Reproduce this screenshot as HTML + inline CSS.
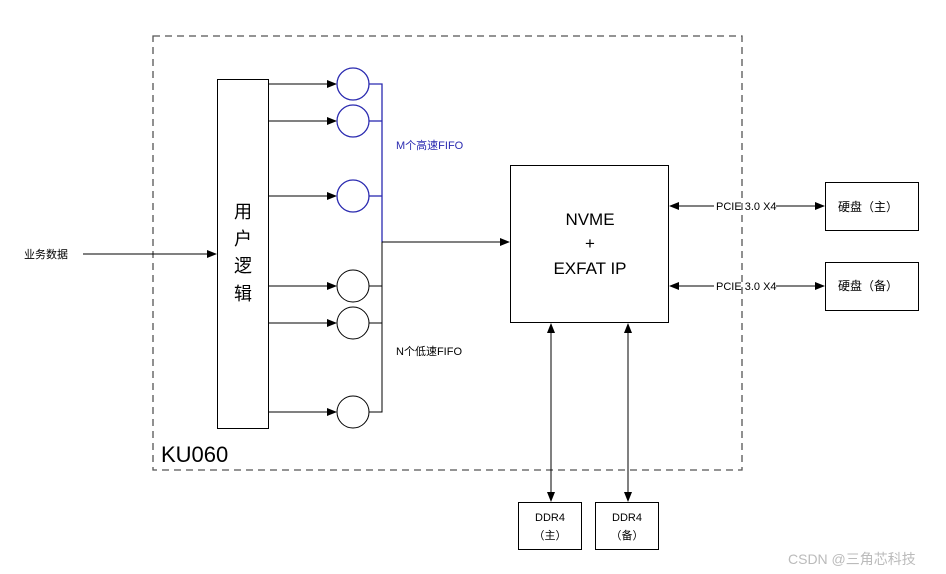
<!DOCTYPE html><html><head><meta charset="utf-8"><style>body{margin:0;background:#fff}svg{display:block}text{font-family:"Liberation Sans","Noto Sans CJK SC",sans-serif}</style></head><body>
<svg width="946" height="574" viewBox="0 0 946 574" xmlns="http://www.w3.org/2000/svg">
<defs><marker id="a" markerWidth="10" markerHeight="8" refX="9" refY="4" orient="auto-start-reverse" markerUnits="userSpaceOnUse"><path d="M0,0L10,4L0,8z" fill="#000"/></marker></defs>
<rect x="153" y="36" width="589" height="434" fill="none" stroke="#555" stroke-width="1.3" stroke-dasharray="7,5"/>
<text x="161" y="462" font-size="22">KU060</text>
<rect x="217.5" y="79.5" width="51" height="349" fill="none" stroke="#000"/>
<text font-size="18" text-anchor="middle"><tspan x="243" y="218">用</tspan><tspan x="243" y="245">户</tspan><tspan x="243" y="272">逻</tspan><tspan x="243" y="300">辑</tspan></text>
<line x1="83" y1="254" x2="216" y2="254" stroke="#000" marker-end="url(#a)"/>
<text x="24" y="258" font-size="11">业务数据</text>
<g stroke="#000" fill="none">
<line x1="269" y1="84" x2="336" y2="84" marker-end="url(#a)"/>
<line x1="269" y1="121" x2="336" y2="121" marker-end="url(#a)"/>
<line x1="269" y1="196" x2="336" y2="196" marker-end="url(#a)"/>
<line x1="269" y1="286" x2="336" y2="286" marker-end="url(#a)"/>
<line x1="269" y1="323" x2="336" y2="323" marker-end="url(#a)"/>
<line x1="269" y1="412" x2="336" y2="412" marker-end="url(#a)"/>
</g>
<g stroke="#2a2ab0" fill="none" stroke-width="1.3">
<circle cx="353" cy="84" r="16"/><circle cx="353" cy="121" r="16"/><circle cx="353" cy="196" r="16"/>
<polyline points="369,84 382,84 382,242"/><line x1="369" y1="121" x2="382" y2="121"/><line x1="369" y1="196" x2="382" y2="196"/>
</g>
<g stroke="#000" fill="none">
<circle cx="353" cy="286" r="16"/><circle cx="353" cy="323" r="16"/><circle cx="353" cy="412" r="16"/>
<polyline points="369,412 382,412 382,242"/><line x1="369" y1="286" x2="382" y2="286"/><line x1="369" y1="323" x2="382" y2="323"/>
<line x1="382" y1="242" x2="509" y2="242" marker-end="url(#a)"/>
</g>
<text x="396" y="149" font-size="11" fill="#2a2ab0">M个高速FIFO</text>
<text x="396" y="355" font-size="11">N个低速FIFO</text>
<rect x="510.5" y="165.5" width="158" height="157" fill="none" stroke="#000"/>
<text font-size="17" text-anchor="middle"><tspan x="590" y="225">NVME</tspan><tspan x="590" y="249">+</tspan><tspan x="590" y="274">EXFAT IP</tspan></text>
<g stroke="#000"><line x1="670" y1="206" x2="714" y2="206" marker-start="url(#a)"/><line x1="776" y1="206" x2="824" y2="206" marker-end="url(#a)"/>
<line x1="670" y1="286" x2="714" y2="286" marker-start="url(#a)"/><line x1="776" y1="286" x2="824" y2="286" marker-end="url(#a)"/>
<line x1="551" y1="324" x2="551" y2="501" marker-start="url(#a)" marker-end="url(#a)"/>
<line x1="628" y1="324" x2="628" y2="501" marker-start="url(#a)" marker-end="url(#a)"/></g>
<text x="716" y="210" font-size="11">PCIE 3.0 X4</text><text x="716" y="290" font-size="11">PCIE 3.0 X4</text>
<rect x="825.5" y="182.5" width="93" height="48" fill="none" stroke="#000"/>
<rect x="825.5" y="262.5" width="93" height="48" fill="none" stroke="#000"/>
<text x="838" y="211" font-size="12">硬盘（主）</text><text x="838" y="290" font-size="12">硬盘（备）</text>
<rect x="518.5" y="502.5" width="63" height="47" fill="none" stroke="#000"/>
<rect x="595.5" y="502.5" width="63" height="47" fill="none" stroke="#000"/>
<text font-size="11" text-anchor="middle"><tspan x="550" y="521">DDR4</tspan><tspan x="550" y="539">（主）</tspan><tspan x="627" y="521">DDR4</tspan><tspan x="627" y="539">（备）</tspan></text>
<text x="788" y="564" font-size="14" fill="#bbb">CSDN @三角芯科技</text>
</svg></body></html>
